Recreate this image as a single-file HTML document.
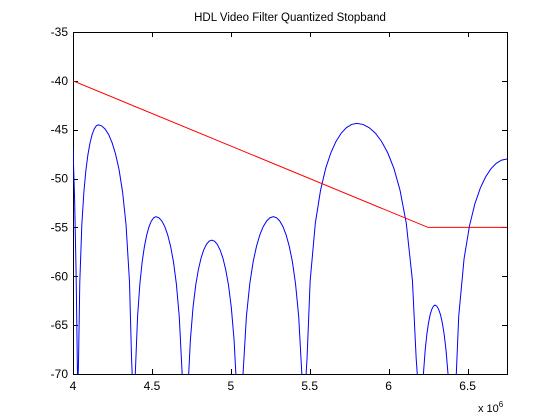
<!DOCTYPE html>
<html><head><meta charset="utf-8">
<style>
html,body{margin:0;padding:0;background:#fff;width:560px;height:420px;overflow:hidden;}
svg{display:block;font-family:"Liberation Sans",Arial,sans-serif;}
</style></head>
<body>
<svg id="chart" width="560" height="420" viewBox="0 0 560 420">
<rect x="0" y="0" width="560" height="420" fill="#fff"/>
<text x="290" y="21" font-size="11.5" text-anchor="middle" fill="#000">HDL Video Filter Quantized Stopband</text>
<defs><clipPath id="plotclip"><rect x="73" y="32" width="434" height="342"/></clipPath></defs>
<g id="axes"></g>
<g id="series" clip-path="url(#plotclip)"></g>
<text x="478" y="412" font-size="11" fill="#000">x 10<tspan font-size="8" dy="-5">6</tspan></text>
</svg>
<script>
// data (frequency in units of 1e6 Hz, magnitude in dB)
const xTicks = [4, 4.5, 5, 5.5, 6, 6.5];
const xTickLabels = ["4", "4.5", "5", "5.5", "6", "6.5"];
const yTicks = [-35, -40, -45, -50, -55, -60, -65, -70];
const yTickLabels = ["-35", "-40", "-45", "-50", "-55", "-60", "-65", "-70"];
const maskFreq = [4, 6.25, 6.75];
const maskMag = [-40, -55, -55];
const respFreq = [
 4.0, 4.01, 4.02,
 4.03, 4.0352, 4.043, 4.056, 4.069, 4.082, 4.095, 4.108, 4.121, 4.134, 4.147, 4.16,
 4.182, 4.204, 4.226, 4.248, 4.27, 4.292, 4.314, 4.336, 4.358, 4.3712,
 4.38, 4.3858, 4.3946, 4.4092, 4.4238, 4.4384, 4.453, 4.4676, 4.4822, 4.4968, 4.5114, 4.526,
 4.5444, 4.5628, 4.5812, 4.5996, 4.618, 4.6364, 4.6548, 4.6732, 4.6916, 4.7026,
 4.71, 4.7168, 4.7269, 4.7438, 4.7607, 4.7776, 4.7945, 4.8114, 4.8283, 4.8452, 4.8621, 4.879,
 4.8967, 4.9144, 4.9321, 4.9498, 4.9675, 4.9852, 5.0029, 5.0206, 5.0383, 5.0489,
 5.056, 5.0646, 5.0774, 5.0988, 5.1202, 5.1416, 5.163, 5.1844, 5.2058, 5.2272, 5.2486, 5.27,
 5.29, 5.31, 5.33, 5.35, 5.37, 5.39, 5.41, 5.43, 5.45, 5.462,
 5.47, 5.4831, 5.5028, 5.5356, 5.5684, 5.6012, 5.634, 5.6668, 5.6996, 5.7324, 5.7652, 5.798,
 5.8372, 5.8764, 5.9156, 5.9548, 5.994, 6.0332, 6.0724, 6.1116, 6.1508, 6.1743,
 6.19, 6.1942, 6.2004, 6.2108, 6.2212, 6.2316, 6.242, 6.2524, 6.2628, 6.2732, 6.2836, 6.294,
 6.3056, 6.3172, 6.3288, 6.3404, 6.352, 6.3636, 6.3752, 6.3868, 6.3984, 6.403,
 6.41, 6.4236, 6.444, 6.478, 6.512, 6.546, 6.58, 6.614, 6.648, 6.682, 6.716, 6.75
];
const respMag = [
 -46.9, -52, -60,
 -100, -68.5, -60.6, -54.7, -51.36, -49.1, -47.51, -46.34, -45.5, -44.94, -44.61, -44.5,
 -44.61, -44.94, -45.5, -46.34, -47.51, -49.1, -51.36, -54.7, -60.6, -68.5,
 -100, -77.9, -70, -64.1, -60.76, -58.5, -56.91, -55.74, -54.9, -54.34, -54.01, -53.9,
 -54.01, -54.34, -54.9, -55.74, -56.91, -58.5, -60.76, -64.1, -70, -77.9,
 -100, -80.3, -72.4, -66.5, -63.16, -60.9, -59.31, -58.14, -57.3, -56.74, -56.41, -56.3,
 -56.41, -56.74, -57.3, -58.14, -59.31, -60.9, -63.16, -66.5, -72.4, -80.3,
 -100, -77.9, -70, -64.1, -60.76, -58.5, -56.91, -55.74, -54.9, -54.34, -54.01, -53.9,
 -54.01, -54.34, -54.9, -55.74, -56.91, -58.5, -60.76, -64.1, -70, -77.9,
 -100, -68.35, -60.45, -54.55, -51.21, -48.95, -47.36, -46.19, -45.35, -44.79, -44.46, -44.35,
 -44.46, -44.79, -45.35, -46.19, -47.36, -48.95, -51.21, -54.55, -60.45, -68.35,
 -100, -86.95, -79.05, -73.15, -69.81, -67.55, -65.96, -64.79, -63.95, -63.39, -63.06, -62.95,
 -63.06, -63.39, -63.95, -64.79, -65.96, -67.55, -69.81, -73.15, -79.05, -86.95,
 -100, -72, -64.1, -58.2, -54.86, -52.6, -51.01, -49.84, -49.0, -48.44, -48.11, -48.0
];

const NS = "http://www.w3.org/2000/svg";
const L = 73, R = 507, T = 32, B = 374;
const xMin = 4, xMax = 6.75, yMin = -70, yMax = -35;
function xs(v){ return L + (v - xMin) / (xMax - xMin) * (R - L); }
function ys(v){ const c = Math.max(v, yMin - 2); return B - (c - yMin) / (yMax - yMin) * (B - T); }
function mk(tag, attrs){ const e = document.createElementNS(NS, tag); for (const k in attrs) e.setAttribute(k, attrs[k]); return e; }

const axes = document.getElementById('axes');
const series = document.getElementById('series');

const frame = mk('rect', {x: L + 0.5, y: T + 0.5, width: R - L, height: B - T, fill: 'none', stroke: '#000', 'stroke-width': 1});


axes.appendChild(frame);

xTicks.forEach((v, i) => {
  const x = Math.round(xs(v)) + 0.5;
  const t1 = mk('line', {x1: x, x2: x, y1: B, y2: B - 5, stroke: '#000'});
  
  
  axes.appendChild(t1);
  const t2 = mk('line', {x1: x, x2: x, y1: T, y2: T + 5, stroke: '#000'});
  
  
  axes.appendChild(t2);
  const lb = mk('text', {x: xs(v), y: B + 16, 'font-size': 12, 'text-anchor': 'middle', fill: '#000'});
  lb.textContent = xTickLabels[i];
  
  
  axes.appendChild(lb);
});
yTicks.forEach((v, i) => {
  const y = Math.round(ys(v)) + 0.5;
  const t1 = mk('line', {x1: L, x2: L + 5, y1: y, y2: y, stroke: '#000'});
  
  
  axes.appendChild(t1);
  const t2 = mk('line', {x1: R, x2: R - 5, y1: y, y2: y, stroke: '#000'});
  
  
  axes.appendChild(t2);
  const lb = mk('text', {x: L - 5, y: ys(v) + 4, 'font-size': 12, 'text-anchor': 'end', fill: '#000'});
  lb.textContent = yTickLabels[i];
  
  
  axes.appendChild(lb);
});

function pts(fx, fy){ return fx.map((v, i) => xs(v).toFixed(2) + ',' + ys(fy[i]).toFixed(2)).join(' '); }
const resp = mk('polyline', {points: pts(respFreq, respMag), fill: 'none', stroke: '#0000ff', 'stroke-width': 1});


series.appendChild(resp);
const mask = mk('polyline', {points: pts(maskFreq, maskMag), fill: 'none', stroke: '#ff0000', 'stroke-width': 1});


series.appendChild(mask);
</script>
</body></html>
